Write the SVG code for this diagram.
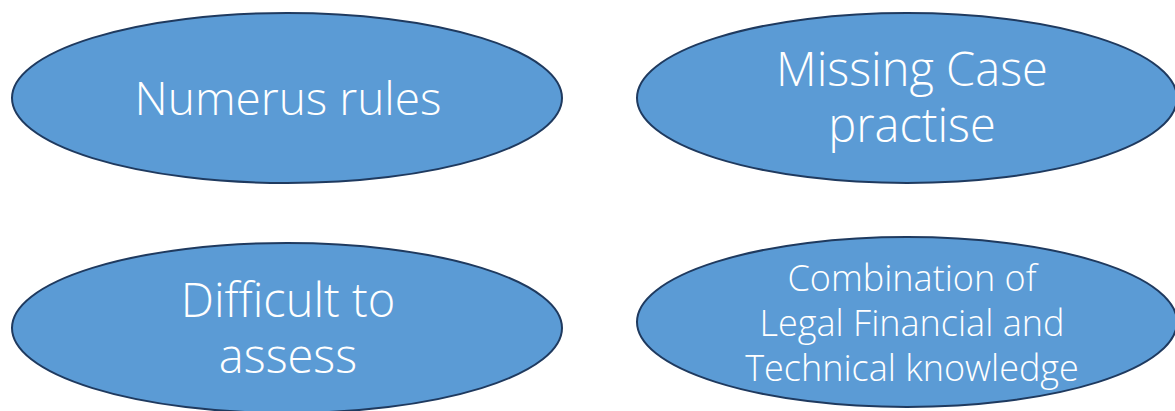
<svg xmlns="http://www.w3.org/2000/svg" width="1175" height="411" viewBox="0 0 1175 411">
<style>
.node ellipse{fill:#5B9BD5;stroke:#1F3A5F;stroke-width:2}
.big{font-family:"Open Sans","Noto Sans",sans-serif;font-size:47px;font-weight:300;fill:#ffffff;text-anchor:middle}
.small{font-family:"Open Sans","Noto Sans",sans-serif;font-size:36px;font-weight:300;fill:#ffffff;text-anchor:middle}
</style>
<rect width="1175" height="411" fill="#ffffff"/>
<g id="connectors"/>
<g id="n1" class="node">
<ellipse cx="287" cy="98" rx="275" ry="85"/>
<text class="big" x="288" y="115" style="font-size:46px">Numerus rules</text>
</g>
<g id="n2" class="node">
<ellipse cx="907" cy="98" rx="270" ry="85"/>
<text class="big" x="912" y="86">Missing Case</text>
<text class="big" x="912" y="142">practise</text>
</g>
<g id="n3" class="node">
<ellipse cx="287" cy="328" rx="275" ry="85"/>
<text class="big" x="288" y="317">Difficult to</text>
<text class="big" x="288" y="373">assess</text>
</g>
<g id="n4" class="node">
<ellipse cx="907" cy="322" rx="270" ry="85"/>
<text class="small" x="912" y="291">Combination of</text>
<text class="small" x="912" y="336">Legal Financial and</text>
<text class="small" x="912" y="381">Technical knowledge</text>
</g>
</svg>
